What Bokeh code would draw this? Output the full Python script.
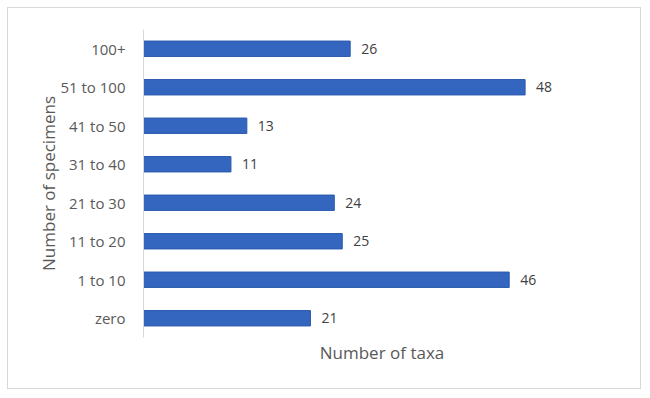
from bokeh.plotting import figure
from bokeh.models import ColumnDataSource, Range1d, LabelSet, FixedTicker
from bokeh.core.properties import value
from bokeh.embed import file_html
from bokeh.resources import INLINE

categories = ["zero", "1 to 10", "11 to 20", "21 to 30", "31 to 40", "41 to 50", "51 to 100", "100+"]
taxa = [21, 46, 25, 24, 11, 13, 48, 26]

FONT = "Open Sans"

src = ColumnDataSource(dict(cat=categories, val=taxa, lbl=[str(v) for v in taxa]))

p = figure(width=634, height=382, y_range=categories, x_range=Range1d(0, 60),
           output_backend="svg", toolbar_location=None,
           min_border_left=135, min_border_right=22, min_border_top=21, min_border_bottom=53)
p.styles = {"border": "1px solid #d9d9d9", "box-sizing": "border-box",
            "margin-left": "7px", "margin-top": "7px"}
p.outline_line_color = None
p.xgrid.visible = False
p.ygrid.visible = False

p.hbar(y="cat", right="val", left=0, height=0.4, source=src,
       fill_color="#3465BF", line_color="#2C5AAE", line_width=1)

labels = LabelSet(x="val", y="cat", text="lbl", source=src, x_offset=11, y_offset=0,
                  text_baseline="middle", text_font=value(FONT), text_font_size=value("14px"),
                  text_color=value("#404040"))
p.add_layout(labels)

# y axis
ya = p.yaxis[0]
ya.axis_line_color = "#d9d9d9"
ya.major_tick_line_color = None
ya.minor_tick_line_color = None
ya.major_label_standoff = 12
ya.major_label_text_font = FONT
ya.major_label_text_font_size = "15px"
ya.major_label_text_color = "#595959"
ya.axis_label = "Number of specimens"
ya.axis_label_text_font = FONT
ya.axis_label_text_font_size = "17px"
ya.axis_label_text_font_style = "normal"
ya.axis_label_text_color = "#595959"
ya.axis_label_standoff = -3

# x axis
xa = p.xaxis[0]
xa.ticker = FixedTicker(ticks=[])
xa.axis_line_color = None
xa.major_tick_line_color = None
xa.minor_tick_line_color = None
xa.major_label_standoff = 0
xa.axis_label = "Number of taxa"
xa.axis_label_text_font = FONT
xa.axis_label_text_font_size = "17px"
xa.axis_label_text_font_style = "normal"
xa.axis_label_text_color = "#595959"
xa.axis_label_standoff = 3

open("out.html", "w").write(file_html(p, INLINE))
